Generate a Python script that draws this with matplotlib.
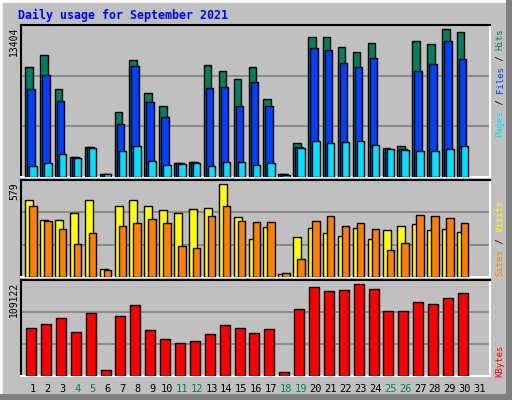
import matplotlib
matplotlib.use("Agg")
import matplotlib.pyplot as plt
from matplotlib.patches import Rectangle

days = list(range(1, 32))
hits  = [9660,10720,7720,1800,2680,295,5690,10280,7450,6220,1270,1360,9840,9310,8600,9660,6920,240,3030,12310,12310,11430,10990,11780,2590,2770,11960,11700,13020,12760,0]
files = [7720,8960,6660,1770,2650,290,4630,9750,6570,5330,1210,1330,7810,7980,6300,8340,6300,240,2680,11340,11170,10020,9660,10460,2500,2500,9310,9930,11960,10370,0]
pages = [940,1270,2060,1710,2590,240,2330,2770,1440,1090,1150,1270,1000,1360,1360,1090,1270,180,2590,3210,3030,3120,3210,2860,2500,2420,2330,2330,2500,2770,0]
visits = [458,338,338,380,458,50,422,458,422,398,380,404,410,554,356,224,296,20,236,290,260,242,290,224,278,302,314,278,284,266,0]
sites  = [422,332,284,194,260,44,302,320,344,320,188,176,362,422,332,326,326,26,110,332,362,302,320,284,164,200,368,362,350,320,0]
kbytes = [54390,58980,65880,49790,71620,7280,68170,80810,52090,41750,37150,39450,47490,57830,54390,48640,53240,4980,76220,101500,96900,98050,104940,99200,73920,73920,84260,81960,88860,94600,0]
weekend = [4,5,11,12,18,19,25,26]
max_hits, max_sites, max_kb = 13404, 579, 109122

W, H = 512, 400
fig = plt.figure(figsize=(W/100, H/100), dpi=100)
fig.patch.set_facecolor("#c0c0c0")
# frame
fig.add_artist(Rectangle((0, 0), 1, 1, transform=fig.transFigure, fc="none", ec="white", lw=4))
fig.add_artist(Rectangle((506/W, 0), 6/W, 1, transform=fig.transFigure, fc="#808080", ec="none"))
fig.add_artist(Rectangle((0, 0), 1, 6/H, transform=fig.transFigure, fc="#808080", ec="none"))

mono = "DejaVu Sans Mono"
def ax_px(x0, y0, x1, y1):
    a = fig.add_axes([x0/W, 1-y1/H, (x1-x0)/W, (y1-y0)/H])
    a.set_facecolor("#c0c0c0")
    a.set_xlim(0.2, 31.7)
    for s in ("top", "left"):
        a.spines[s].set_color("black")
    for s in ("bottom", "right"):
        a.spines[s].set_color("white")
    for s in a.spines.values():
        s.set_linewidth(1.5)
    a.set_xticks([]); a.set_yticks([])
    return a

def bars(a, vals, off, w, color):
    d = [x for x, v in zip(days, vals) if v > 0]
    v = [v for v in vals if v > 0]
    a.bar([x + off for x in d], v, width=w, color=color, edgecolor="black", linewidth=1, zorder=3)

def grid(a, top):
    for f in (1/3, 2/3):
        a.axhline(top*f, color="#808080", lw=1.2, zorder=1)

a1 = ax_px(21, 25, 490, 177)
a1.set_ylim(0, max_hits)
grid(a1, max_hits)
bars(a1, hits, -0.27, 0.5, "#00805c")
bars(a1, files, -0.13, 0.5, "#0040ff")
bars(a1, pages, 0.0, 0.5, "#00e0ff")

a2 = ax_px(21, 180, 490, 277)
a2.set_ylim(0, max_sites)
grid(a2, max_sites)
bars(a2, visits, -0.25, 0.54, "#ffff00")
bars(a2, sites, 0.0, 0.5, "#ff8000")

a3 = ax_px(21, 280, 490, 376)
a3.set_ylim(0, max_kb)
grid(a3, max_kb)
bars(a3, kbytes, -0.12, 0.67, "#ff0000")

for d in days:
    x = 21 + (d - 0.2) / 31.5 * 469
    fig.text(x/W, 1-389/H, str(d), ha="center", va="center", family=mono, fontsize=7.5,
             color="#00805c" if d in weekend else "black")

fig.text(18/W, 1-15/H, "Daily usage for September 2021", family=mono, fontsize=8.4,
         weight="bold", color="#0000ff", va="center", ha="left")
for y, t in ((27, "13404"), (182, "579"), (282, "109122")):
    fig.text(14/W, 1-y/H, t, rotation=90, ha="center", va="top", family=mono, fontsize=7)

cw = 5.45
def right_label(ybot, parts):
    pos = 0
    for t, c in parts:
        fig.text(500/W, 1-(ybot - pos*cw)/H, t, rotation=90, ha="center", va="bottom",
                 family=mono, fontsize=6.5, color=c)
        pos += len(t)
right_label(137, [("Pages", "#00e0ff"), (" / ", "black"), ("Files", "#0040ff"),
                  (" / ", "black"), ("Hits", "#00805c")])
right_label(276, [("Sites", "#ff8000"), (" / ", "black"), ("Visits", "#ffff00")])
right_label(377, [("KBytes", "#ff0000")])

fig.savefig("out.png", dpi=100, facecolor=fig.get_facecolor())
